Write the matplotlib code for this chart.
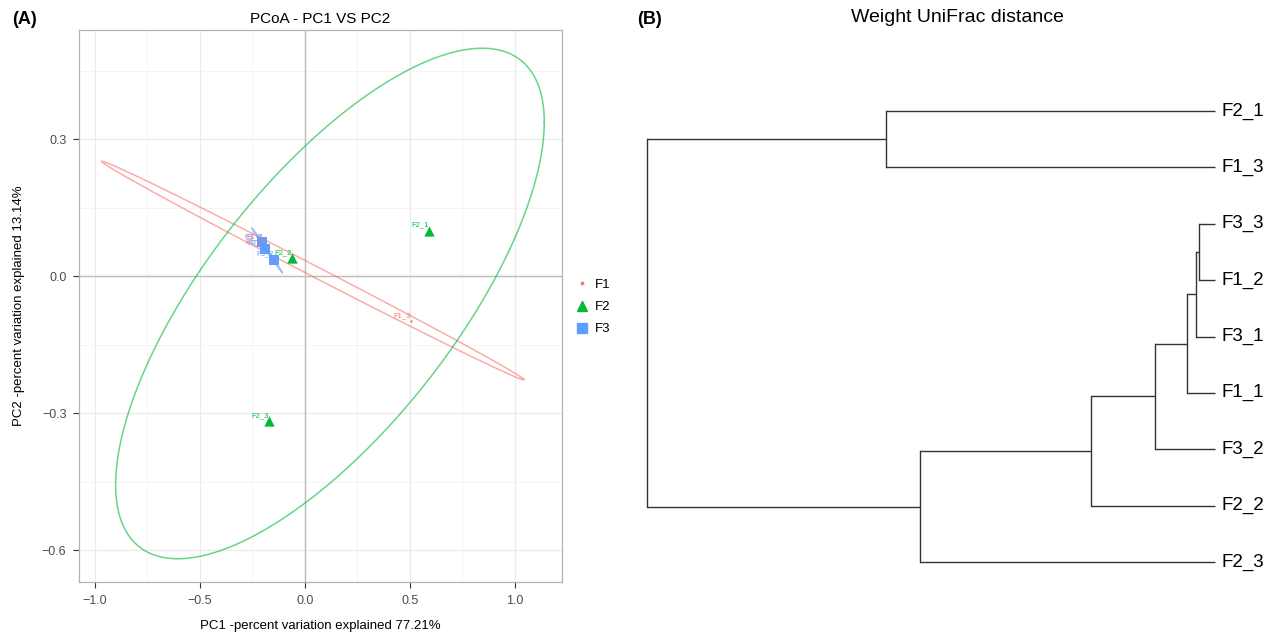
import matplotlib
matplotlib.use("Agg")
import matplotlib.pyplot as plt
from matplotlib.lines import Line2D
from matplotlib.ticker import FuncFormatter
import numpy as np

plt.rcParams["font.family"] = ["Liberation Sans", "DejaVu Sans"]

# PCoA sample scores
samples = ["F1_1", "F1_2", "F1_3", "F2_1", "F2_2", "F2_3", "F3_1", "F3_2", "F3_3"]
groups = ["F1", "F1", "F1", "F2", "F2", "F2", "F3", "F3", "F3"]
pc1 = [-0.196, -0.199, 0.505, 0.590, -0.062, -0.171, -0.188, -0.148, -0.205]
pc2 = [0.073, 0.063, -0.099, 0.099, 0.039, -0.318, 0.060, 0.035, 0.074]

group_names = ["F1", "F2", "F3"]
group_colors = {"F1": "#F8766D", "F2": "#00BA38", "F3": "#619CFF"}
group_markers = {"F1": "o", "F2": "^", "F3": "s"}
group_sizes = {"F1": 3, "F2": 55, "F3": 45}

# dendrogram (weighted UniFrac), leaves top to bottom
leaves = ["F2_1", "F1_3", "F3_3", "F1_2", "F3_1", "F1_1", "F3_2", "F2_2", "F2_3"]
merge_left = ["F3_3", "n0", "n1", "n2", "n3", "F2_1", "n4", "n5"]
merge_right = ["F1_2", "F3_1", "F1_1", "F3_2", "F2_2", "F1_3", "F2_3", "n6"]
merge_height = [0.014, 0.017, 0.025, 0.053, 0.109, 0.290, 0.260, 0.500]


def ellipse_path(x, y, scale=2.48, n=200):
    pts = np.column_stack([x, y])
    center = pts.mean(axis=0)
    cov = np.cov(pts, rowvar=False)
    chol = np.linalg.cholesky(cov + np.eye(2) * 1e-12)
    t = np.linspace(0, 2 * np.pi, n)
    circle = np.column_stack([np.cos(t), np.sin(t)])
    return center + scale * circle @ chol.T


minus_fmt = FuncFormatter(lambda v, p: ("%.1f" % v).replace("-", "\u2212"))

fig = plt.figure(figsize=(12.74, 6.38), dpi=100)

#%% panel A
ax = fig.add_axes([79 / 1274, 56 / 638, 483 / 1274, 552 / 638])
ax.set_xlim(-1.076, 1.224)
ax.set_ylim(-0.670, 0.539)
ax.set_xticks([-1.0, -0.5, 0.0, 0.5, 1.0])
ax.set_yticks([-0.6, -0.3, 0.0, 0.3])
ax.set_xticks([-0.75, -0.25, 0.25, 0.75], minor=True)
ax.set_yticks([-0.45, -0.15, 0.15, 0.45], minor=True)
ax.xaxis.set_major_formatter(minus_fmt)
ax.yaxis.set_major_formatter(minus_fmt)
ax.grid(which="major", color="#EBEBEB", lw=0.9)
ax.grid(which="minor", color="#F3F3F3", lw=0.6)
ax.set_axisbelow(True)
ax.tick_params(which="major", length=4, width=0.8, color="#333333",
               labelsize=9, labelcolor="#4D4D4D", pad=5)
ax.tick_params(which="minor", length=0)
for s in ax.spines.values():
    s.set_color("#B3B3B3")
    s.set_linewidth(0.9)
ax.axhline(0, color="#BDBDBD", lw=1, zorder=1)
ax.axvline(0, color="#BDBDBD", lw=1, zorder=1)

x_arr = np.array(pc1)
y_arr = np.array(pc2)
g_arr = np.array(groups)
for g in group_names:
    m = g_arr == g
    e = ellipse_path(x_arr[m], y_arr[m])
    ax.plot(e[:, 0], e[:, 1], color=group_colors[g], lw=1.1, alpha=0.6, zorder=2)

handles = []
for g in group_names:
    m = g_arr == g
    ax.scatter(x_arr[m], y_arr[m], s=group_sizes[g], marker=group_markers[g],
               color=group_colors[g], linewidths=0, zorder=3)
    handles.append(Line2D([], [], ls="none", marker=group_markers[g],
                          color=group_colors[g],
                          markersize=np.sqrt(group_sizes[g]), label=g))

for name, xv, yv, g in zip(samples, pc1, pc2, groups):
    ax.annotate(name, (xv, yv), xytext=(-6.5, 4.3), textcoords="offset points",
                ha="center", va="center", fontsize=5.5, color=group_colors[g],
                zorder=4)

ax.set_title("PCoA - PC1 VS PC2", fontsize=11, pad=5)
ax.set_xlabel("PC1 -percent variation explained 77.21%", fontsize=9.5, labelpad=10)
ax.set_ylabel("PC2 -percent variation explained 13.14%", fontsize=9.5, labelpad=12)

fig.legend(handles=handles, loc="center left", bbox_to_anchor=(562 / 1274, 1 - 307 / 638),
           frameon=False, fontsize=9.5, handletextpad=0.4, labelspacing=0.75,
           handlelength=1.2)

#%% panel B
bx = fig.add_axes([647 / 1274, 76 / 638, 568 / 1274, 451 / 638])
bx.set_xlim(0.5, 0.0)
bx.set_ylim(8, 0)
bx.axis("off")

ypos = {name: i for i, name in enumerate(leaves)}
hpos = {name: 0.0 for name in leaves}
for i, (l, r, h) in enumerate(zip(merge_left, merge_right, merge_height)):
    for child in (l, r):
        bx.plot([hpos[child], h], [ypos[child], ypos[child]], color="#333333", lw=1,
                solid_capstyle="butt", clip_on=False)
    bx.plot([h, h], [ypos[l], ypos[r]], color="#333333", lw=1, clip_on=False)
    ypos["n%d" % i] = (ypos[l] + ypos[r]) / 2
    hpos["n%d" % i] = h

for name in leaves:
    bx.annotate(name, (0.0, ypos[name]), xytext=(5, 0), textcoords="offset points",
                ha="left", va="center", fontsize=13.5, annotation_clip=False)

fig.text(957 / 1274, 1 - 18 / 638, "Weight UniFrac distance", ha="center", va="center",
         fontsize=14)
fig.text(12 / 1274, 1 - 20 / 638, "(A)", ha="left", va="center", fontsize=13,
         fontweight="bold")
fig.text(637 / 1274, 1 - 20 / 638, "(B)", ha="left", va="center", fontsize=13,
         fontweight="bold")

fig.savefig("out.png", dpi=100)
